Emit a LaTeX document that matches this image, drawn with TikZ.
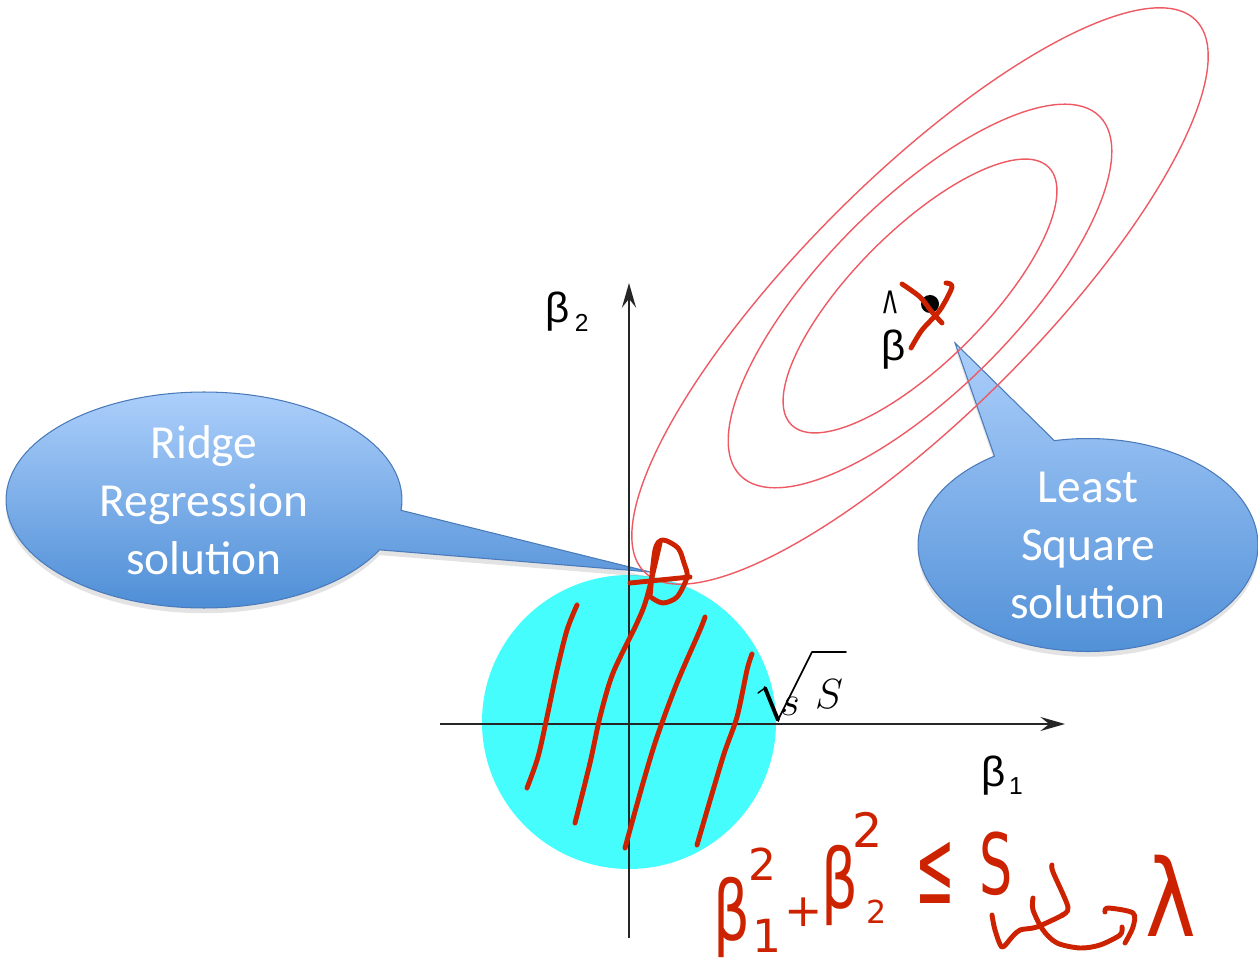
\RequirePackage{fix-cm}
\documentclass[tikz,border=0pt]{standalone}
\usepackage{fontspec}
\usepackage{graphicx}
\newfontfamily\bubblefont{Carlito}
\newfontfamily\axisfont{Liberation Sans}
\newfontfamily\handfont{DejaVu Sans}
\usetikzlibrary{arrows.meta,shapes.callouts,shadows}

\definecolor{discfill}{RGB}{70,253,253}
\definecolor{contour}{RGB}{238,90,100}
\definecolor{handred}{RGB}{204,34,0}
\definecolor{bubbletop}{RGB}{172,207,251}
\definecolor{bubblebot}{RGB}{78,142,214}
\definecolor{bubbleedge}{RGB}{74,122,186}

\newcommand{\handsize}[1]{\fontsize{#1}{#1}\selectfont}

\begin{document}
\begin{tikzpicture}[
  x=0.02cm, y=-0.02cm,
  % styles
  axis/.style={line width=1.3pt, draw=black!85, -{Stealth[length=14pt, width=8pt, inset=5pt]}},
  contourline/.style={draw=contour, line width=0.8pt},
  hand/.style={draw=handred, line width=2.8pt, line cap=round, line join=round},
  handtext/.style={text=handred, inner sep=0pt, font=\handfont},
  bubble/.style={ellipse callout, draw=bubbleedge, line width=0.6pt, top color=bubbletop, bottom color=bubblebot,
    text=white, align=center, inner sep=0pt, callout pointer arc=22,
    font=\bubblefont\fontsize{27}{33}\selectfont,
    drop shadow={opacity=0.22, shadow xshift=0pt, shadow yshift=-3pt}},
  axislabel/.style={inner sep=0pt, font=\axisfont\fontsize{24}{24}\selectfont},
  radical/.style={draw=black, line cap=round, line join=round}
]
\useasboundingbox (0,0) rectangle (1258,962);

% constraint disc
\coordinate (disc) at (629,722);
\fill[discfill] (disc) circle[radius=147];

% callouts
\coordinate (ridgetip) at (650,572);
\coordinate (lstip) at (955,343);
\node[bubble, minimum width=7.92cm, minimum height=4.32cm, callout absolute pointer={(ridgetip)}] (ridge) at (204,500) {Ridge\\Regression\\solution};
\node[bubble, minimum width=6.8cm, minimum height=4.26cm, callout absolute pointer={(lstip)}] (lsq) at (1088,545) {Least\\Square\\solution};

% RSS contours
\coordinate (lsc) at (920,296);
\foreach \a/\b in {390/118, 254/95, 182/66}
  \draw[contourline] (lsc) ellipse[x radius=\a, y radius=\b, rotate=45];

% axes
\coordinate (xstart) at (440,724);
\coordinate (xend) at (1065,724);
\coordinate (ystart) at (629,938);
\coordinate (yend) at (629,283);
\draw[axis] (xstart) -- (xend);
\draw[axis] (ystart) -- (yend);

% labels
\node[axislabel, anchor=base west] (b2lab) at (545,323) {β\kern3pt\raisebox{-5pt}{\fontsize{14}{14}\selectfont 2}};
\node[axislabel, anchor=base west] (b1lab) at (981,786) {β\kern2pt\raisebox{-5pt}{\fontsize{14}{14}\selectfont 1}};
\node[axislabel, anchor=base west] (bhat) at (881,361) {\rlap{\kern1pt\raisebox{15pt}{\scalebox{0.7}[1.5]{\textasciicircum}}}β};
\fill (930,304) circle[radius=9];

% sqrt(s) mark on the axis
\coordinate (rada) at (758,693);
\coordinate (radb) at (765,688);
\coordinate (radc) at (778,720);
\coordinate (radd) at (812,652);
\coordinate (rade) at (846,652);
\draw[radical, line width=0.8pt] (rada) -- (radb);
\draw[radical, line width=2.2pt] (radb) -- (radc);
\draw[radical, line width=0.9pt] (radc) -- (radd) -- (rade);
\node[inner sep=0pt, font=\fontsize{24}{24}\selectfont] (sval) at (829,694) {$S$};
\node[inner sep=0pt, font=\fontsize{24}{24}\selectfont] (strays) at (790,706) {$s$};

% hand-drawn marks
\draw[hand] plot[smooth] coordinates {(902,284) (920,297) (932,312) (942,323)};
\draw[hand] plot[smooth] coordinates {(946,283) (952,287) (940,310) (922,330) (911,348)};
\draw[hand] plot[smooth] coordinates {(650,597) (655,550) (663,540) (678,548) (684,563) (687,577) (677,597) (663,603) (652,598)};
\draw[hand] plot[smooth] coordinates {(630,583) (660,580) (690,577)};
\draw[hand] plot[smooth] coordinates {(577,605) (567,630) (557,670) (547,717) (538,757) (527,788)};
\draw[hand] plot[smooth] coordinates {(660,543) (647,597) (637,623) (613,673) (600,717) (590,763) (575,823)};
\draw[hand] plot[smooth] coordinates {(705,617) (700,630) (677,683) (657,737) (643,783) (625,848)};
\draw[hand] plot[smooth] coordinates {(752,654) (747,670) (737,717) (723,757) (697,845)};

% constraint written by hand
\node[handtext] (bone) at (732,917) {\handsize{47}\scalebox{0.7}[1]{β}};
\node[handtext] (onesub) at (767,936) {\handsize{26}1};
\node[handtext] (twosupa) at (762,864) {\handsize{25}2};
\node[handtext] (plus) at (804,912) {\handsize{26}+};
\node[handtext] (btwo) at (840,885) {\handsize{47}\scalebox{0.7}[1]{β}};
\node[handtext] (twosupb) at (868,830) {\handsize{27}2};
\node[handtext] (twosub) at (877,912) {\handsize{18}2};
\node[handtext] (leq) at (935,873) {\handsize{60}\scalebox{0.45}[1]{≤}};
\node[handtext] (sbound) at (996,864) {\handsize{48}\scalebox{0.62}[1]{S}};
\node[handtext] (lam) at (1171,896) {\handsize{61}\scalebox{0.8}[1]{λ}};
\draw[hand] plot[smooth] coordinates {(992,915) (995,930) (1002,947) (1012,937) (1020,930) (1037,927) (1063,915)};
\draw[hand] plot[smooth] coordinates {(1033,898) (1033,910) (1043,930) (1057,943) (1080,948) (1100,945) (1120,935) (1122,927)};
\draw[hand] plot[smooth] coordinates {(1052,865) (1053,872) (1068,907) (1062,915)};
\draw[hand] plot[smooth] coordinates {(1105,912) (1108,908) (1133,913) (1133,927) (1125,943)};
\end{tikzpicture}
\end{document}
